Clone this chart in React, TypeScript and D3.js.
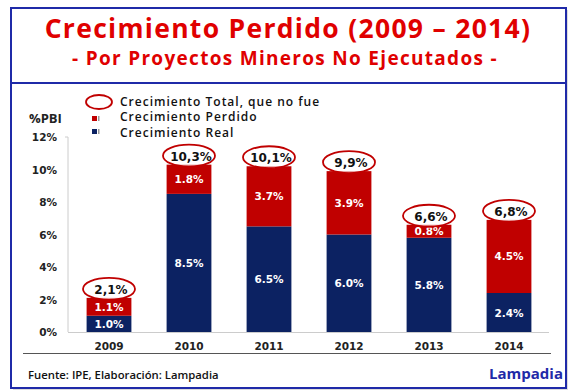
import React from 'react';
import * as d3 from 'd3';

const years = ['2009', '2010', '2011', '2012', '2013', '2014'];
const real = [1.0, 8.5, 6.5, 6.0, 5.8, 2.4];
const perdido = [1.1, 1.8, 3.7, 3.9, 0.8, 4.5];
const totalLabels = ['2,1%', '10,3%', '10,1%', '9,9%', '6,6%', '6,8%'];
const yTicks = [0, 2, 4, 6, 8, 10, 12];

const RED = '#c00000';
const NAVY = '#0c2262';
const FRAME = '#1f2aa8';
const BOLD = 'DejaVu Sans';

export default function App() {
  const width = 572;
  const height = 392;

  const x = d3.scaleBand<string>().domain(years).range([69, 549]).paddingInner(0.44).paddingOuter(0.22);
  const y = d3.scaleLinear().domain([0, 12]).range([332, 137]);

  const stacked = d3.stack<number>().keys(['real', 'perdido'])
    .value((i, key) => (key === 'real' ? real[i] : perdido[i]))(d3.range(years.length));

  const colors = [NAVY, RED];
  const valueArrays = [real, perdido];

  return (
    <svg width={width} height={height} style={{ position: 'absolute', left: 0, top: 0, background: '#fff' }}>
      {/* frame */}
      <rect x={13} y={10} width={555} height={380} fill="#bbb" opacity={0.5} />
      <rect x={11} y={8} width={555} height={380} fill="#fff" stroke={FRAME} strokeWidth={2} />
      <line x1={11} x2={566} y1={83} y2={83} stroke={FRAME} strokeWidth={2} />

      <text x={288} y={38} textAnchor="middle" fill="#e00000" fontFamily="Open Sans" fontWeight={700} fontSize={26.5} letterSpacing={1.3}>
        Crecimiento Perdido (2009 – 2014)
      </text>
      <text x={285} y={65} textAnchor="middle" fill="#e00000" fontFamily="Open Sans" fontWeight={700} fontSize={19} letterSpacing={1.3}>
        - Por Proyectos Mineros No Ejecutados -
      </text>

      {/* legend */}
      <ellipse cx={99} cy={102} rx={13} ry={7} fill="none" stroke={RED} strokeWidth={1.8} />
      <text x={120} y={105.5} fontFamily="Open Sans" fontWeight={600} fontSize={12} letterSpacing={1} fill="#111">Crecimiento Total, que no fue</text>
      <rect x={92} y={116} width={5} height={5} fill={RED} />
      <rect x={98} y={116} width={1.5} height={5} fill="#999" />
      <text x={120} y={121} fontFamily="Open Sans" fontWeight={600} fontSize={12} letterSpacing={1} fill="#111">Crecimiento Perdido</text>
      <rect x={92} y={129} width={5} height={5} fill={NAVY} />
      <rect x={98} y={129} width={1.5} height={5} fill="#999" />
      <text x={120} y={137} fontFamily="Open Sans" fontWeight={600} fontSize={12} letterSpacing={1} fill="#111">Crecimiento Real</text>
      <text x={29} y={123} fontFamily="Open Sans" fontWeight={700} fontSize={13} fill="#222">%PBI</text>

      {/* y axis */}
      <line x1={68} x2={68} y1={y(12)} y2={y(0)} stroke="#ccc" />
      <line x1={65} x2={68} y1={y(12)} y2={y(12)} stroke="#ccc" />
      {yTicks.map((t) => (
        <text key={t} x={57} y={y(t) + 4} textAnchor="end" fontFamily={BOLD} fontWeight={700} fontSize={10.5} fill="#222">
          {t}%
        </text>
      ))}

      {/* bars */}
      {stacked.map((layer, li) => (
        <g key={li}>
          {layer.map((d, i) => (
            <g key={i}>
              <rect x={x(years[i])} y={y(d[1])} width={x.bandwidth()} height={y(d[0]) - y(d[1])} fill={colors[li]} />
              <text x={(x(years[i]) as number) + x.bandwidth() / 2} y={(y(d[0]) + y(d[1])) / 2 + 4}
                textAnchor="middle" fontFamily={BOLD} fontWeight={700} fontSize={10.5} fill="#fff">
                {valueArrays[li][i].toFixed(1)}%
              </text>
            </g>
          ))}
        </g>
      ))}

      {/* totals */}
      {years.map((yr, i) => {
        const top = y(real[i] + perdido[i]);
        const cx = (x(yr) as number) + x.bandwidth() / 2;
        return (
          <g key={yr}>
            <ellipse cx={cx} cy={top - 9} rx={26} ry={11} fill="#fff" fillOpacity={0.6} stroke={RED} strokeWidth={1.8} />
            <text x={cx + 2} y={top - 4} textAnchor="middle" fontFamily={BOLD} fontWeight={700} fontSize={12} fill="#111">
              {totalLabels[i]}
            </text>
          </g>
        );
      })}

      {/* x axis */}
      <line x1={68} x2={549} y1={332.5} y2={332.5} stroke="#ccc" />
      {years.map((yr) => (
        <text key={yr} x={(x(yr) as number) + x.bandwidth() / 2} y={350} textAnchor="middle"
          fontFamily={BOLD} fontWeight={700} fontSize={10.5} fill="#222">
          {yr}
        </text>
      ))}

      <line x1={23} x2={551} y1={353.5} y2={353.5} stroke="#555" strokeWidth={1.2} />
      <text x={28} y={379} fontFamily="Open Sans" fontWeight={600} fontSize={11.3} fill="#111">
        Fuente: IPE, Elaboración: Lampadia
      </text>
      <text x={563} y={379} textAnchor="end" fontFamily="Open Sans" fontWeight={700} fontSize={15} fill="#1f2aa8">
        Lampadia
      </text>
    </svg>
  );
}
